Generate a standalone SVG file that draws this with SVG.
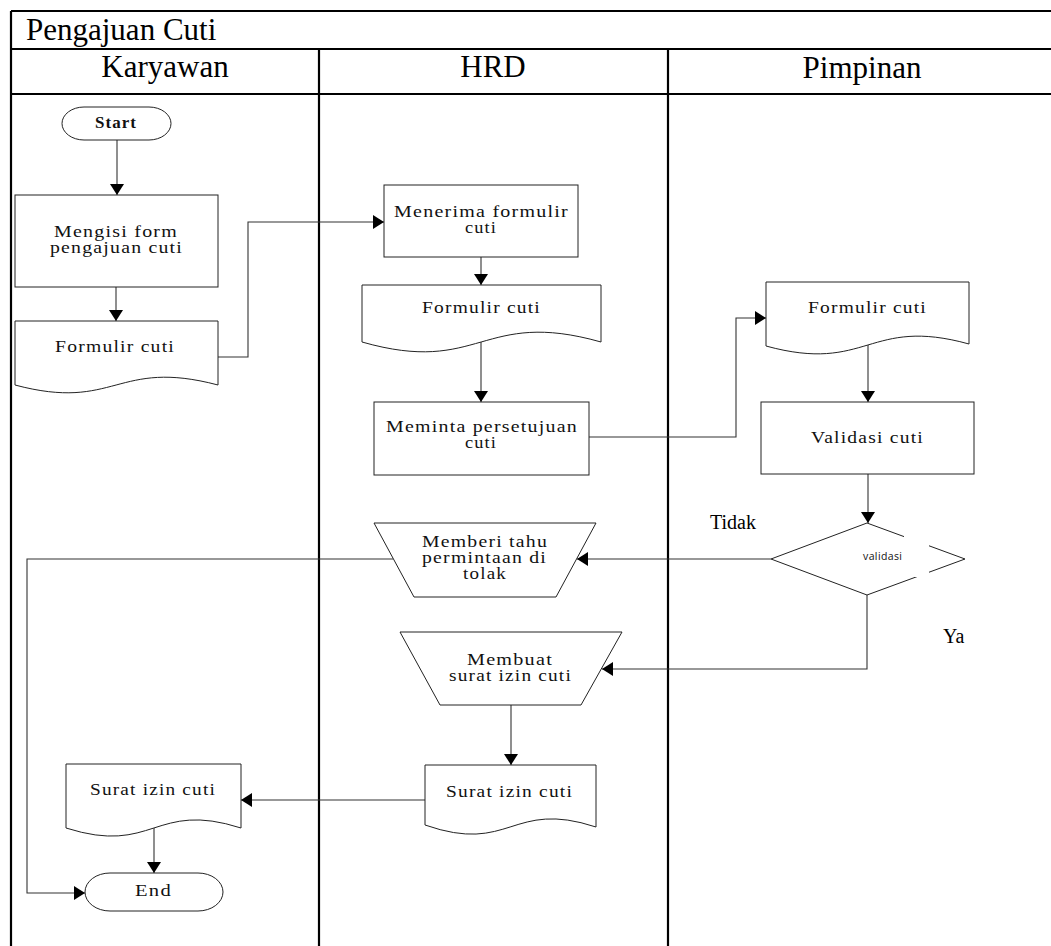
<svg xmlns="http://www.w3.org/2000/svg" width="1051" height="946" viewBox="0 0 1051 946">
<style>
.frame{stroke:#000;stroke-width:2.2;fill:none}
.shape{fill:#fff;stroke:#222;stroke-width:1}
.conn{fill:none;stroke:#333;stroke-width:1.1}
.t{font-family:"Liberation Serif","Times New Roman",serif;font-size:16px;letter-spacing:1px;fill:#111}
.h{font-family:"Liberation Serif","Times New Roman",serif;font-size:31px;fill:#000}
.lbl{font-family:"Liberation Serif","Times New Roman",serif;font-size:20px;fill:#000}
.s{font-family:"Open Sans","Liberation Sans",sans-serif;font-size:10.5px;fill:#111}
</style>
<defs>
<marker id="ah" markerUnits="userSpaceOnUse" markerWidth="12" markerHeight="14" refX="11" refY="7" orient="auto">
<path d="M0,0 L11,7 L0,14 Z" fill="#000"/>
</marker>
</defs>
<rect width="1051" height="946" fill="#fff"/>
<g id="pool">
<path class="frame" d="M11,11 H1051 M11,49 H1051 M11,94 H1051 M11,11 V946 M319,49 V946 M668,49 V946"/>
<text class="h" x="26" y="40">Pengajuan Cuti</text>
<text class="h" x="165" y="77" text-anchor="middle">Karyawan</text>
<text class="h" x="493" y="77" text-anchor="middle">HRD</text>
<text class="h" x="862" y="78" text-anchor="middle">Pimpinan</text>
</g>
<g id="connectors">
<path class="conn" d="M117,140 V195" marker-end="url(#ah)"/>
<path class="conn" d="M116,287 V321" marker-end="url(#ah)"/>
<path class="conn" d="M218,357 H248 V222 H384" marker-end="url(#ah)"/>
<path class="conn" d="M481,257 V285" marker-end="url(#ah)"/>
<path class="conn" d="M481,342 V402" marker-end="url(#ah)"/>
<path class="conn" d="M589,437 H736 V318 H766" marker-end="url(#ah)"/>
<path class="conn" d="M868,345 V402" marker-end="url(#ah)"/>
<path class="conn" d="M868,474 V523" marker-end="url(#ah)"/>
<path class="conn" d="M771,559 H577" marker-end="url(#ah)"/>
<path class="conn" d="M867,595 V669 H602" marker-end="url(#ah)"/>
<path class="conn" d="M393,559 H27 V893 H85" marker-end="url(#ah)"/>
<path class="conn" d="M511,705 V765" marker-end="url(#ah)"/>
<path class="conn" d="M425,800 H241" marker-end="url(#ah)"/>
<path class="conn" d="M154,828 V873" marker-end="url(#ah)"/>
<text class="lbl" x="710" y="529">Tidak</text>
<text class="lbl" x="943" y="643">Ya</text>
</g>
<g id="start">
<rect class="shape" x="62" y="107" width="109" height="33" rx="22" ry="16.5"/>
<text class="t" x="95" y="128" font-weight="bold" font-size="13" textLength="42" lengthAdjust="spacingAndGlyphs">Start</text>
</g>
<g id="mengisi">
<rect class="shape" x="15" y="195" width="203" height="92"/>
<text class="t" x="54" y="237" textLength="124" lengthAdjust="spacingAndGlyphs">Mengisi form</text>
<text class="t" x="50" y="253" textLength="133" lengthAdjust="spacingAndGlyphs">pengajuan cuti</text>
</g>
<g id="doc-karyawan">
<path class="shape" d="M15,321 H218 V385 C116,358 116,412 15,385 Z"/>
<text class="t" x="55" y="352" textLength="120" lengthAdjust="spacingAndGlyphs">Formulir cuti</text>
</g>
<g id="menerima">
<rect class="shape" x="384" y="185" width="194" height="72"/>
<text class="t" x="394" y="217" textLength="175" lengthAdjust="spacingAndGlyphs">Menerima formulir</text>
<text class="t" x="465" y="233" textLength="32" lengthAdjust="spacingAndGlyphs">cuti</text>
</g>
<g id="doc-hrd">
<path class="shape" d="M362,285 H601 V342 C481,308 481,376 362,342 Z"/>
<text class="t" x="422" y="313" textLength="119" lengthAdjust="spacingAndGlyphs">Formulir cuti</text>
</g>
<g id="meminta">
<rect class="shape" x="374" y="402" width="215" height="73"/>
<text class="t" x="386" y="432" textLength="192" lengthAdjust="spacingAndGlyphs">Meminta persetujuan</text>
<text class="t" x="465" y="448" textLength="32" lengthAdjust="spacingAndGlyphs">cuti</text>
</g>
<g id="doc-pimpinan">
<path class="shape" d="M766,282 H969 V344 C868,316 868,374 766,346 Z"/>
<text class="t" x="808" y="313" textLength="119" lengthAdjust="spacingAndGlyphs">Formulir cuti</text>
</g>
<g id="validasi-cuti">
<rect class="shape" x="761" y="402" width="213" height="72"/>
<text class="t" x="811" y="443" textLength="113" lengthAdjust="spacingAndGlyphs">Validasi cuti</text>
</g>
<g id="decision">
<polygon class="shape" points="867,523 965,559 867,595 771,559"/>
<rect x="904" y="536" width="25" height="41" fill="#fff"/>
<text class="s" x="863" y="560" textLength="39" lengthAdjust="spacing">validasi</text>
</g>
<g id="memberi-tahu">
<polygon class="shape" points="374,523 596,523 556,597 414,597"/>
<text class="t" x="422" y="547" textLength="126" lengthAdjust="spacingAndGlyphs">Memberi tahu</text>
<text class="t" x="422" y="563" textLength="125" lengthAdjust="spacingAndGlyphs">permintaan di</text>
<text class="t" x="463" y="579" textLength="44" lengthAdjust="spacingAndGlyphs">tolak</text>
</g>
<g id="membuat">
<polygon class="shape" points="400,632 622,632 581,705 440,705"/>
<text class="t" x="467" y="665" textLength="86" lengthAdjust="spacingAndGlyphs">Membuat</text>
<text class="t" x="449" y="681" textLength="123" lengthAdjust="spacingAndGlyphs">surat izin cuti</text>
</g>
<g id="surat-hrd">
<path class="shape" d="M425,765 H596 V827 C511,799 511,855 425,825 Z"/>
<text class="t" x="446" y="797" textLength="127" lengthAdjust="spacingAndGlyphs">Surat izin cuti</text>
</g>
<g id="surat-karyawan">
<path class="shape" d="M66,764 H241 V828 C154,800 154,856 66,828 Z"/>
<text class="t" x="90" y="795" textLength="126" lengthAdjust="spacingAndGlyphs">Surat izin cuti</text>
</g>
<g id="end">
<rect class="shape" x="85" y="873" width="138" height="38" rx="25" ry="19"/>
<text class="t" x="135" y="896" textLength="37" lengthAdjust="spacingAndGlyphs">End</text>
</g>
</svg>
